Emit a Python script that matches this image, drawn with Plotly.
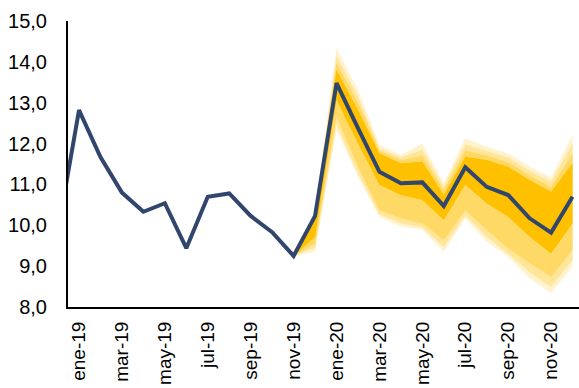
import plotly.graph_objects as go

# Monthly categories (dic-18 precedes the visible axis start)
months = ["dic-18", "ene-19", "feb-19", "mar-19", "abr-19", "may-19", "jun-19", "jul-19",
          "ago-19", "sep-19", "oct-19", "nov-19", "dic-19", "ene-20", "feb-20", "mar-20",
          "abr-20", "may-20", "jun-20", "jul-20", "ago-20", "sep-20", "oct-20", "nov-20", "dic-20"]
# Central path
values = [9.8, 12.82, 11.67, 10.80, 10.33, 10.54, 9.44, 10.70, 10.78, 10.23, 9.83, 9.25,
          10.23, 13.48, 12.38, 11.31, 11.03, 11.05, 10.47, 11.42, 10.94, 10.74, 10.17, 9.82, 10.70]

# Fan bands (from nov-19 to dic-20)
fan_months = months[11:]
upper_4 = [9.25, 10.35, 14.33, 13.31, 11.97, 11.72, 12.00, 11.03, 12.13, 11.92, 11.76, 11.43, 11.17, 12.21]
upper_3 = [9.25, 10.32, 14.15, 13.15, 11.88, 11.66, 11.85, 10.95, 11.98, 11.82, 11.65, 11.33, 11.06, 12.00]
upper_2 = [9.25, 10.29, 13.98, 13.00, 11.82, 11.59, 11.70, 10.85, 11.83, 11.71, 11.54, 11.22, 10.94, 11.76]
upper_1 = [9.25, 10.26, 13.80, 12.82, 11.76, 11.52, 11.56, 10.74, 11.68, 11.60, 11.43, 11.11, 10.82, 11.52]
lower_1 = [9.25, 9.72, 13.07, 12.00, 10.99, 10.74, 10.62, 10.13, 10.99, 10.54, 10.21, 9.72, 9.31, 10.05]
lower_2 = [9.25, 9.55, 12.66, 11.43, 10.37, 10.17, 10.05, 9.64, 10.37, 9.89, 9.44, 9.07, 8.74, 9.40]
lower_3 = [9.25, 9.45, 12.48, 11.28, 10.27, 10.05, 9.95, 9.47, 10.24, 9.72, 9.30, 8.85, 8.50, 9.15]
lower_4 = [9.25, 9.35, 12.33, 11.19, 10.20, 9.97, 9.89, 9.35, 10.17, 9.60, 9.23, 8.70, 8.34, 8.99]

tick_labels = ["ene-19", "mar-19", "may-19", "jul-19", "sep-19", "nov-19",
               "ene-20", "mar-20", "may-20", "jul-20", "sep-20", "nov-20"]
y_ticks = [8, 9, 10, 11, 12, 13, 14, 15]
y_tick_text = ["8,0", "9,0", "10,0", "11,0", "12,0", "13,0", "14,0", "15,0"]

band_colors = ["#FFF2CC", "#FFE699", "#FFD966", "#FFC000"]

x_all = list(range(-1, len(months) - 1))
idx = {m: i for m, i in zip(months, x_all)}
x_fan = [idx[m] for m in fan_months]

fig = go.Figure()
bands = [(lower_4, upper_4), (lower_3, upper_3), (lower_2, upper_2), (lower_1, upper_1)]
for (lo, hi), col in zip(bands, band_colors):
    fig.add_trace(go.Scatter(x=x_fan, y=lo, mode="lines", line=dict(width=0, color=col),
                             showlegend=False, hoverinfo="skip"))
    fig.add_trace(go.Scatter(x=x_fan, y=hi, mode="lines", line=dict(width=0, color=col),
                             fill="tonexty", fillcolor=col, showlegend=False, hoverinfo="skip"))

fig.add_trace(go.Scatter(x=x_all, y=values, mode="lines",
                         line=dict(color="#31466C", width=4), showlegend=False))

tick_vals = [idx[t] for t in tick_labels]

fig.update_layout(
    width=579, height=388,
    margin=dict(l=68, r=0, t=21, b=81),
    paper_bgcolor="white", plot_bgcolor="white",
    font=dict(family="Liberation Sans, Arial", size=20, color="#000000"),
    xaxis=dict(range=[-0.513, 23.3], tickmode="array", tickvals=tick_vals, ticktext=tick_labels,
               tickangle=-90, showgrid=False, zeroline=False, showline=True,
               linecolor="#000000", linewidth=2, ticks="", ticklabelstandoff=5,
               tickfont=dict(size=19), automargin=False),
    yaxis=dict(range=[8, 15], tickmode="array", tickvals=y_ticks, ticktext=y_tick_text,
               showgrid=False, zeroline=False, showline=True, linecolor="#000000",
               linewidth=2, ticks="", ticklabelstandoff=15, tickfont=dict(size=20),
               automargin=False),
)

fig.write_html("out.html")
